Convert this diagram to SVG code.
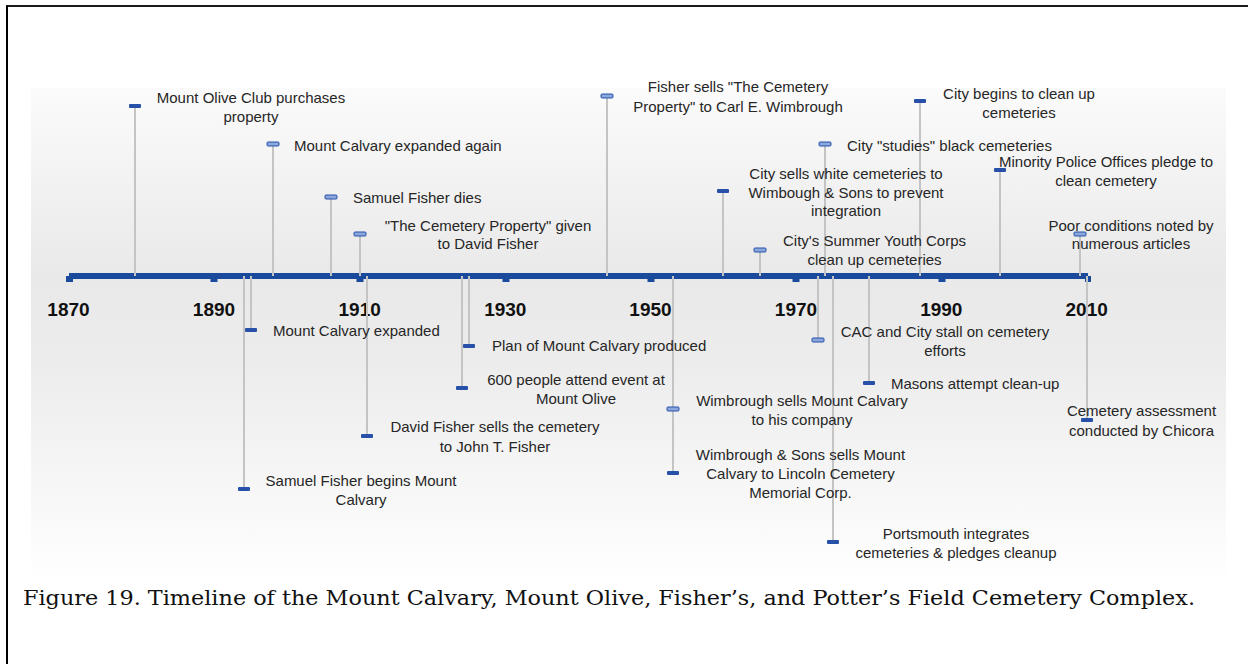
<svg xmlns="http://www.w3.org/2000/svg" width="1248" height="664" viewBox="0 0 1248 664">
<defs>
<linearGradient id="bg" gradientUnits="userSpaceOnUse" x1="0" y1="88" x2="0" y2="585">
<stop offset="0" stop-color="#fbfbfb"/>
<stop offset="0.38" stop-color="#e9e9e9"/>
<stop offset="0.55" stop-color="#ececec"/>
<stop offset="1" stop-color="#ffffff"/>
</linearGradient>
<style>
.lbl{font-family:"Liberation Sans",Arial,sans-serif;font-size:15px;fill:#262626}
.c{text-anchor:middle}
.yr{font-family:"Liberation Sans",Arial,sans-serif;font-size:19px;font-weight:bold;fill:#111;text-anchor:middle}
.stem{stroke:#c4c4c4;stroke-width:2;fill:none}
.mk{fill:#2750a8}
.mkh{fill:#8ba7dc;stroke:#2750a8;stroke-width:1}
.bar{fill:#1a4a9c}
.cap{font-family:"DejaVu Serif","Liberation Serif",serif;font-size:21px;fill:#111}
</style>
</defs>
<rect x="0" y="0" width="1248" height="664" fill="#ffffff"/>
<rect x="31" y="88" width="1195" height="497" fill="url(#bg)"/>
<line x1="6" y1="6" x2="1248" y2="6" stroke="#1a1a1a" stroke-width="2"/>
<line x1="7" y1="6" x2="7" y2="664" stroke="#000" stroke-width="2"/>

<g id="axis">
<rect class="bar" x="69" y="273" width="1019" height="6"/>
<rect class="bar" x="66" y="276" width="7" height="6"/>
<rect class="bar" x="1085" y="276" width="6" height="6"/>
<rect class="bar" x="210.5" y="279" width="7" height="3"/>
<rect class="bar" x="356.5" y="279" width="7" height="3"/>
<rect class="bar" x="502.5" y="279" width="7" height="3"/>
<rect class="bar" x="647.5" y="279" width="7" height="3"/>
<rect class="bar" x="792.5" y="279" width="7" height="3"/>
<rect class="bar" x="938.5" y="279" width="7" height="3"/>
<text class="yr" x="68.5" y="316">1870</text>
<text class="yr" x="214" y="316">1890</text>
<text class="yr" x="359.7" y="316">1910</text>
<text class="yr" x="505.3" y="316">1930</text>
<text class="yr" x="650.5" y="316">1950</text>
<text class="yr" x="796" y="316">1970</text>
<text class="yr" x="941.3" y="316">1990</text>
<text class="yr" x="1086.7" y="316">2010</text>
</g>

<g id="connectors">
<line class="stem" x1="135" y1="106" x2="135" y2="276"/>
<line class="stem" x1="273" y1="144" x2="273" y2="276"/>
<line class="stem" x1="331" y1="197" x2="331" y2="276"/>
<line class="stem" x1="360" y1="234" x2="360" y2="276"/>
<line class="stem" x1="607" y1="96" x2="607" y2="276"/>
<line class="stem" x1="723" y1="191" x2="723" y2="276"/>
<line class="stem" x1="760" y1="250" x2="760" y2="276"/>
<line class="stem" x1="920" y1="101" x2="920" y2="276"/>
<line class="stem" x1="825" y1="144" x2="825" y2="276"/>
<line class="stem" x1="1000" y1="170" x2="1000" y2="276"/>
<line class="stem" x1="1080" y1="234" x2="1080" y2="276"/>
<line class="stem" x1="244" y1="276" x2="244" y2="489"/>
<line class="stem" x1="251" y1="276" x2="251" y2="330"/>
<line class="stem" x1="367" y1="276" x2="367" y2="436"/>
<line class="stem" x1="462" y1="276" x2="462" y2="388"/>
<line class="stem" x1="469" y1="276" x2="469" y2="346"/>
<line class="stem" x1="673" y1="276" x2="673" y2="409"/>
<line class="stem" x1="673" y1="276" x2="673" y2="473"/>
<line class="stem" x1="818" y1="276" x2="818" y2="340"/>
<line class="stem" x1="833" y1="276" x2="833" y2="542"/>
<line class="stem" x1="869" y1="276" x2="869" y2="383"/>
<line class="stem" x1="1087" y1="276" x2="1087" y2="420"/>
</g>

<g id="ev-mount-olive-club">
<rect class="mk" x="129" y="104" width="12" height="4" rx="1"/>
<text class="lbl c" x="251" y="103">Mount Olive Club purchases</text>
<text class="lbl c" x="251" y="122">property</text>
</g>
<g id="ev-calvary-expanded-again">
<rect class="mkh" x="267" y="142" width="12" height="4" rx="1"/>
<text class="lbl" x="294" y="150.5">Mount Calvary expanded again</text>
</g>
<g id="ev-samuel-dies">
<rect class="mkh" x="325" y="195" width="12" height="4" rx="1"/>
<text class="lbl" x="353" y="203">Samuel Fisher dies</text>
</g>
<g id="ev-given-david">
<rect class="mkh" x="354" y="232" width="12" height="4" rx="1"/>
<text class="lbl c" x="488" y="230.5">"The Cemetery Property" given</text>
<text class="lbl c" x="488" y="249">to David Fisher</text>
</g>
<g id="ev-fisher-sells">
<rect class="mkh" x="601" y="94" width="12" height="4" rx="1"/>
<text class="lbl c" x="738" y="92">Fisher sells "The Cemetery</text>
<text class="lbl c" x="738" y="111.5">Property" to Carl E. Wimbrough</text>
</g>
<g id="ev-city-sells-white">
<rect class="mk" x="717" y="189" width="12" height="4" rx="1"/>
<text class="lbl c" x="846" y="179">City sells white cemeteries to</text>
<text class="lbl c" x="846" y="198">Wimbough &amp; Sons to prevent</text>
<text class="lbl c" x="846" y="216">integration</text>
</g>
<g id="ev-summer-youth">
<rect class="mkh" x="754" y="248" width="12" height="4" rx="1"/>
<text class="lbl c" x="874.5" y="246">City's Summer Youth Corps</text>
<text class="lbl c" x="874.5" y="265">clean up cemeteries</text>
</g>
<g id="ev-city-begins">
<rect class="mk" x="914" y="99" width="12" height="4" rx="1"/>
<text class="lbl c" x="1019" y="99">City begins to clean up</text>
<text class="lbl c" x="1019" y="117.5">cemeteries</text>
</g>
<g id="ev-city-studies">
<rect class="mkh" x="819" y="142" width="12" height="4" rx="1"/>
<text class="lbl" x="847" y="150.5">City "studies" black cemeteries</text>
</g>
<g id="ev-minority-police">
<rect class="mk" x="994" y="168" width="12" height="4" rx="1"/>
<text class="lbl c" x="1106" y="167">Minority Police Offices pledge to</text>
<text class="lbl c" x="1106" y="186">clean cemetery</text>
</g>
<g id="ev-poor-conditions">
<rect class="mkh" x="1074" y="232" width="12" height="4" rx="1"/>
<text class="lbl c" x="1131" y="230.5">Poor conditions noted by</text>
<text class="lbl c" x="1131" y="249">numerous articles</text>
</g>

<g id="ev-samuel-begins">
<rect class="mk" x="238" y="487" width="12" height="4" rx="1"/>
<text class="lbl c" x="361" y="485.5">Samuel Fisher begins Mount</text>
<text class="lbl c" x="361" y="505">Calvary</text>
</g>
<g id="ev-calvary-expanded">
<rect class="mk" x="245" y="328" width="12" height="4" rx="1"/>
<text class="lbl" x="273" y="336">Mount Calvary expanded</text>
</g>
<g id="ev-david-sells">
<rect class="mk" x="361" y="434" width="12" height="4" rx="1"/>
<text class="lbl c" x="495" y="431.5">David Fisher sells the cemetery</text>
<text class="lbl c" x="495" y="451.5">to John T. Fisher</text>
</g>
<g id="ev-600-people">
<rect class="mk" x="456" y="386" width="12" height="4" rx="1"/>
<text class="lbl c" x="576" y="385">600 people attend event at</text>
<text class="lbl c" x="576" y="403.5">Mount Olive</text>
</g>
<g id="ev-plan">
<rect class="mk" x="463" y="344" width="12" height="4" rx="1"/>
<text class="lbl" x="492" y="351">Plan of Mount Calvary produced</text>
</g>
<g id="ev-wimbrough-sells">
<rect class="mkh" x="667" y="407" width="12" height="4" rx="1"/>
<text class="lbl c" x="802" y="405.5">Wimbrough sells Mount Calvary</text>
<text class="lbl c" x="802" y="425">to his company</text>
</g>
<g id="ev-wimbrough-sons-sells">
<rect class="mk" x="667" y="471" width="12" height="4" rx="1"/>
<text class="lbl c" x="800.5" y="460">Wimbrough &amp; Sons sells Mount</text>
<text class="lbl c" x="800.5" y="479">Calvary to Lincoln Cemetery</text>
<text class="lbl c" x="800.5" y="498">Memorial Corp.</text>
</g>
<g id="ev-cac-stall">
<rect class="mkh" x="812" y="338" width="12" height="4" rx="1"/>
<text class="lbl c" x="945" y="337">CAC and City stall on cemetery</text>
<text class="lbl c" x="945" y="356">efforts</text>
</g>
<g id="ev-portsmouth">
<rect class="mk" x="827" y="540" width="12" height="4" rx="1"/>
<text class="lbl c" x="956" y="539">Portsmouth integrates</text>
<text class="lbl c" x="956" y="558">cemeteries &amp; pledges cleanup</text>
</g>
<g id="ev-masons">
<rect class="mk" x="863" y="381" width="12" height="4" rx="1"/>
<text class="lbl" x="891" y="389">Masons attempt clean-up</text>
</g>
<g id="ev-chicora">
<rect class="mk" x="1081" y="418" width="12" height="4" rx="1"/>
<text class="lbl c" x="1141.5" y="416">Cemetery assessment</text>
<text class="lbl c" x="1141.5" y="436">conducted by Chicora</text>
</g>

<text class="cap" x="23" y="605" textLength="1172" lengthAdjust="spacingAndGlyphs">Figure 19. Timeline of the Mount Calvary, Mount Olive, Fisher’s, and Potter’s Field Cemetery Complex.</text>
</svg>
